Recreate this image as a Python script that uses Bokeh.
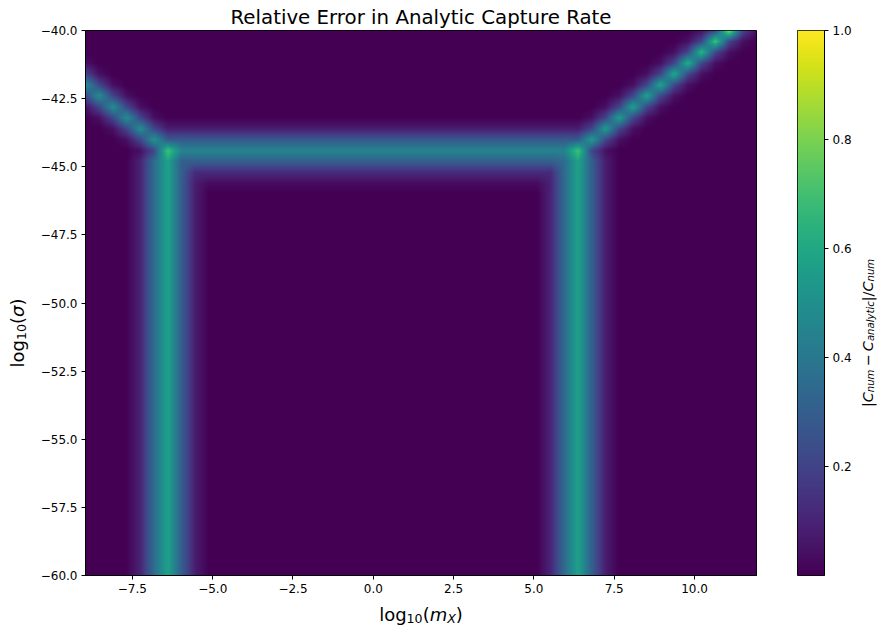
import numpy as np
from math import pi
from bokeh.plotting import figure
from bokeh.models import Range1d, LinearColorMapper, FixedTicker, Label, Spacer
from bokeh.layouts import row, column
from bokeh.palettes import Viridis256
from bokeh.embed import file_html
from bokeh.resources import INLINE

# ---------------- data ----------------
x_limits = [-8.96, 11.93]      # log10(m_X): range of the sampled grid
y_limits = [-60.0, -40.0]      # log10(sigma)
n_x = 50                       # grid points along x
n_y = 51                       # grid points along y
background_value = 0.0

# two vertical bands (grid column of the peak), rows from bottom up to the horizontal band
vband_cols = [6, 36]
vband_rows = [0, 38]
vband_offsets = [-2, -1, 0, 1, 2]
vband_values = [0.10, 0.35, 0.58, 0.30, 0.08]

# horizontal band between the two vertical bands
hband_row = 39
hband_cols = [6, 36]
hband_offsets = [-3, -2, -1, 0, 1, 2]
hband_values = [0.03, 0.12, 0.30, 0.45, 0.28, 0.08]

# bright corner points
corner_cols = [6, 36]
corner_rows = [39, 39]
corner_values = [0.72, 0.72]

# diagonal going up-right from the right corner
rdiag_cols = [37, 38, 39, 40, 41, 42, 43, 44, 45, 46, 47]
rdiag_rows = [40, 41, 42, 43, 44, 45, 46, 47, 48, 49, 50]
rdiag_values = [0.55, 0.56, 0.57, 0.58, 0.59, 0.60, 0.62, 0.64, 0.67, 0.72, 0.85]

# diagonal going up-left from the left corner
ldiag_cols = [5, 4, 3, 2, 1, 0]
ldiag_rows = [40, 41, 42, 43, 44, 45]
ldiag_values = [0.52, 0.50, 0.50, 0.50, 0.50, 0.50]

# values of the cells next to the diagonals (1st and 2nd neighbour)
diag_flank_values = [0.21, 0.04]

x_ticks = [-7.5, -5.0, -2.5, 0.0, 2.5, 5.0, 7.5, 10.0]
x_tick_labels = ["−7.5", "−5.0", "−2.5", "0.0", "2.5", "5.0", "7.5", "10.0"]
y_ticks = [-60.0, -57.5, -55.0, -52.5, -50.0, -47.5, -45.0, -42.5, -40.0]
y_tick_labels = ["−60.0", "−57.5", "−55.0", "−52.5", "−50.0", "−47.5", "−45.0", "−42.5", "−40.0"]
cbar_range = [0.0, 1.0]
cbar_ticks = [0.2, 0.4, 0.6, 0.8, 1.0]
cbar_tick_labels = ["0.2", "0.4", "0.6", "0.8", "1.0"]

title_text = "Relative Error in Analytic Capture Rate"

# ---------------- grid assembly ----------------
Z = np.full((n_y, n_x), background_value, dtype=float)


def put(i, j, v):
    if 0 <= i < n_x and 0 <= j < n_y:
        Z[j, i] = max(Z[j, i], v)


for c in vband_cols:
    for j in range(vband_rows[0], vband_rows[1] + 1):
        for o, v in zip(vband_offsets, vband_values):
            put(c + o, j, v)
for i in range(hband_cols[0], hband_cols[1] + 1):
    for o, v in zip(hband_offsets, hband_values):
        put(i, hband_row + o, v)
for i, j, v in zip(corner_cols, corner_rows, corner_values):
    put(i, j, v)
for i, j, v in zip([corner_cols[1]] + rdiag_cols, [corner_rows[1]] + rdiag_rows,
                   [corner_values[1]] + rdiag_values):
    put(i, j, v)
    put(i + 1, j, diag_flank_values[0]); put(i, j + 1, diag_flank_values[0])
    put(i + 2, j, diag_flank_values[1]); put(i, j + 2, diag_flank_values[1])
for i, j, v in zip([corner_cols[0]] + ldiag_cols, [corner_rows[0]] + ldiag_rows,
                   [corner_values[0]] + ldiag_values):
    put(i, j, v)
    put(i - 1, j, diag_flank_values[0]); put(i, j + 1, diag_flank_values[0])
    put(i - 2, j, diag_flank_values[1]); put(i, j + 2, diag_flank_values[1])


def shade_for_display(A, mx, my):
    """Linear (Gouraud-like) shading between grid points, as in the original rendering."""
    ny, nx = A.shape
    tx = (np.arange(mx) + 0.5) / mx * (nx - 1)
    ty = (np.arange(my) + 0.5) / my * (ny - 1)
    tmp = np.array([np.interp(tx, np.arange(nx), r) for r in A])
    out = np.array([np.interp(ty, np.arange(ny), c) for c in tmp.T]).T
    return out.astype(np.float32)


disp = shade_for_display(Z, 336, 273)

# ---------------- layout constants (page pixels) ----------------
FW, FH = 671, 545
TOP, BOTTOM = 30, 22
ROW_H = TOP + FH + BOTTOM          # 597
YLAB_W = 34
P_ML, P_MR = 51, 1
CB_ML, CB_W, CB_MR = 40, 27, 27
CBLAB_W = 33
XLAB_H = 31
FONT = "DejaVu Sans"

mapper = LinearColorMapper(palette=Viridis256, low=cbar_range[0], high=cbar_range[1])

p = figure(frame_width=FW, frame_height=FH,
           min_border_left=P_ML, min_border_right=P_MR, min_border_top=TOP, min_border_bottom=BOTTOM,
           x_range=Range1d(*x_limits), y_range=Range1d(*y_limits),
           output_backend="svg", toolbar_location=None)
p.image(image=[disp], x=x_limits[0], y=y_limits[0],
        dw=x_limits[1] - x_limits[0], dh=y_limits[1] - y_limits[0], color_mapper=mapper)
p.grid.visible = False
p.outline_line_color = "black"
p.outline_line_width = 1
p.border_fill_color = "white"

p.title.text = title_text
p.title.align = "center"
p.title.text_font = FONT
p.title.text_font_size = "19.8px"
p.title.text_font_style = "normal"
p.title.text_color = "black"
p.title.standoff = 3

p.xaxis.ticker = FixedTicker(ticks=x_ticks)
p.xaxis.major_label_overrides = {t: l for t, l in zip(x_ticks, x_tick_labels)}
p.yaxis.ticker = FixedTicker(ticks=y_ticks)
p.yaxis.major_label_overrides = {t: l for t, l in zip(y_ticks, y_tick_labels)}


def style_axis(ax):
    ax.major_label_text_font = FONT
    ax.major_label_text_font_size = "12px"
    ax.major_label_text_color = "black"
    ax.major_tick_out = 4
    ax.major_tick_in = 0
    ax.major_label_standoff = 4
    ax.minor_tick_line_color = None
    ax.axis_line_color = "black"
    ax.major_tick_line_color = "black"


style_axis(p.xaxis[0])
style_axis(p.yaxis[0])

# ---------------- colour bar ----------------
cb = figure(frame_width=CB_W, frame_height=FH,
            min_border_left=CB_ML, min_border_right=CB_MR, min_border_top=TOP, min_border_bottom=BOTTOM,
            x_range=Range1d(0, 1), y_range=Range1d(*cbar_range),
            x_axis_location=None, y_axis_location="right",
            output_backend="svg", toolbar_location=None)
cb.image(image=[np.linspace(cbar_range[0], cbar_range[1], 256).reshape(-1, 1)],
         x=0, y=cbar_range[0], dw=1, dh=cbar_range[1] - cbar_range[0], color_mapper=mapper)
cb.grid.visible = False
cb.outline_line_color = "black"
cb.outline_line_width = 1
cb.border_fill_color = "white"
cb.yaxis.ticker = FixedTicker(ticks=cbar_ticks)
cb.yaxis.major_label_overrides = {t: l for t, l in zip(cbar_ticks, cbar_tick_labels)}
style_axis(cb.yaxis[0])

# ---------------- math-like labels (drawn in small text panels) ----------------
CHAR_W = {'l': 0.278, 'o': 0.612, 'g': 0.635, '1': 0.636, '0': 0.636, '(': 0.390, ')': 0.390,
          'm': 0.974, 'X': 0.685, 'σ': 0.634, '|': 0.337, 'C': 0.698, 'n': 0.634, 'u': 0.634,
          '−': 0.838, 'a': 0.613, 'y': 0.592, 't': 0.392, 'i': 0.278, 'c': 0.550, '/': 0.337}
SUB_SCALE, SUB_SHIFT = 0.7, 0.22


def text_panel(w, h):
    f = figure(frame_width=w, frame_height=h, min_border=0,
               x_range=Range1d(0, w), y_range=Range1d(0, h),
               x_axis_location=None, y_axis_location=None,
               output_backend="svg", toolbar_location=None)
    f.grid.visible = False
    f.outline_line_color = None
    f.border_fill_color = "white"
    f.background_fill_color = "white"
    return f


def parts_width(parts, F):
    w = 0.0
    for text, sub, italic, pre, post in parts:
        size = F * (SUB_SCALE if sub else 1.0)
        w += (pre + post) * F + sum(CHAR_W.get(ch, 0.6) for ch in text) * size
    return w


def math_label(fig, parts, cx, cy, F, vertical=False):
    total = parts_width(parts, F)
    pos = -total / 2.0
    for text, sub, italic, pre, post in parts:
        size = F * (SUB_SCALE if sub else 1.0)
        pos += pre * F
        shift = SUB_SHIFT * F if sub else 0.0
        if vertical:
            x, y, ang = cx + shift, cy + pos, pi / 2
        else:
            x, y, ang = cx + pos, cy - shift, 0.0
        fig.add_layout(Label(x=x, y=y, x_units="screen", y_units="screen", text=text,
                             text_font=FONT, text_font_size=f"{size:.1f}px",
                             text_font_style="italic" if italic else "normal",
                             text_color="black", text_align="left",
                             text_baseline="alphabetic", angle=ang))
        pos += sum(CHAR_W.get(ch, 0.6) for ch in text) * size + post * F


ylab_fig = text_panel(YLAB_W, ROW_H)
ylab = [("log", False, False, 0, 0), ("10", True, False, 0, 0), ("(", False, False, 0, 0),
        ("σ", False, True, 0, 0), (")", False, False, 0, 0)]
math_label(ylab_fig, ylab, 17, ROW_H - (TOP + FH / 2), 18, vertical=True)

xlab_fig = text_panel(FW, XLAB_H)
xlab = [("log", False, False, 0, 0), ("10", True, False, 0, 0), ("(", False, False, 0, 0),
        ("m", False, True, 0, 0), ("X", True, True, 0, 0), (")", False, False, 0, 0)]
math_label(xlab_fig, xlab, FW / 2, 14, 18)

cblab_fig = text_panel(CBLAB_W, ROW_H)
cblab = [("|", False, False, 0, 0), ("C", False, True, 0, 0), ("num", True, True, 0, 0),
         ("−", False, False, 0.222, 0.222), ("C", False, True, 0, 0),
         ("analytic", True, True, 0, 0), ("|", False, False, 0, 0), ("/", False, False, 0, 0),
         ("C", False, True, 0, 0), ("num", True, True, 0, 0)]
math_label(cblab_fig, cblab, 13, ROW_H - (TOP + FH / 2), 14.4, vertical=True)

layout = column(
    row(ylab_fig, p, cb, cblab_fig),
    row(Spacer(width=YLAB_W + P_ML, height=XLAB_H), xlab_fig),
)
open("out.html", "w").write(file_html(layout, INLINE))
